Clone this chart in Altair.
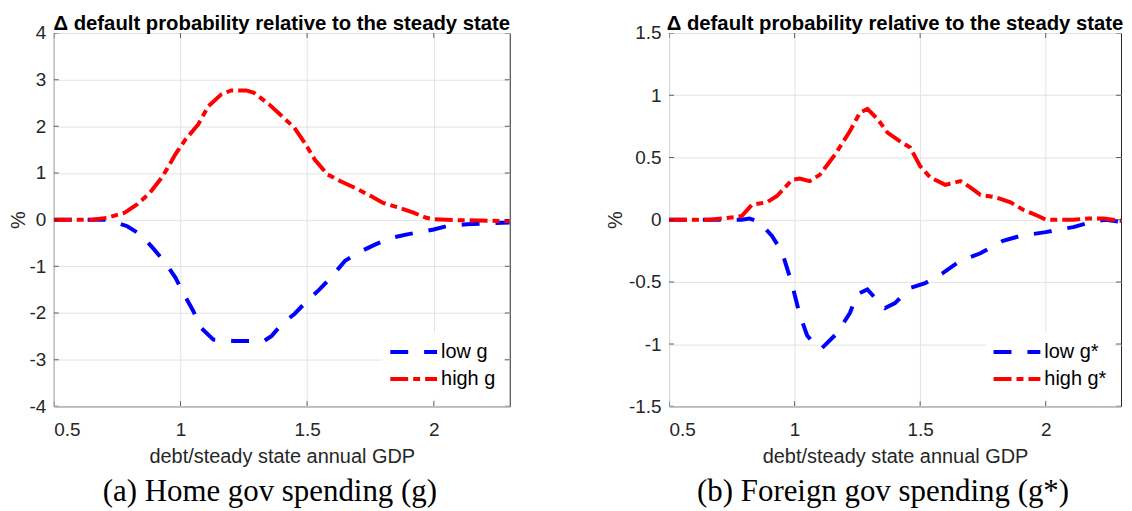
import altair as alt
import pandas as pd

# ---------------- data ----------------
X_TICKS = [0.5, 1, 1.5, 2]
Y_TICKS_A = [-4, -3, -2, -1, 0, 1, 2, 3, 4]
Y_TICKS_B = [-1.5, -1, -0.5, 0, 0.5, 1, 1.5]

TITLE = "Δ default probability relative to the steady state"
X_TITLE = "debt/steady state annual GDP"
LABELS_A = ["low g", "high g"]
LABELS_B = ["low g*", "high g*"]
CAPTION_A = "(a) Home gov spending (g)"
CAPTION_B = "(b) Foreign gov spending (g*)"

# panel (a): home government spending
a_low_x = [0.5, 0.6, 0.71, 0.79, 0.84, 0.89, 0.94, 0.98, 1.01, 1.05, 1.08, 1.13, 1.21,
           1.33, 1.36, 1.40, 1.45, 1.50, 1.55, 1.60, 1.65, 1.70, 1.77, 1.83, 1.90,
           2.0, 2.05, 2.13, 2.3]
a_low_y = [0, 0, 0, -0.14, -0.31, -0.6, -0.92, -1.24, -1.56, -1.95, -2.31, -2.57, -2.6,
           -2.6, -2.49, -2.24, -2.02, -1.74, -1.49, -1.2, -0.88, -0.71, -0.53, -0.39, -0.31,
           -0.21, -0.14, -0.1, -0.06]
a_high_x = [0.5, 0.65, 0.71, 0.78, 0.83, 0.88, 0.93, 0.98, 1.02, 1.07, 1.11, 1.16, 1.2,
            1.26, 1.29, 1.35, 1.40, 1.45, 1.49, 1.53, 1.58, 1.63, 1.69, 1.75, 1.80, 1.86,
            1.92, 1.97, 2.0, 2.1, 2.3]
a_high_y = [0, 0, 0.04, 0.15, 0.33, 0.58, 0.93, 1.4, 1.72, 2.04, 2.43, 2.68, 2.77,
            2.77, 2.72, 2.47, 2.22, 1.97, 1.65, 1.29, 0.97, 0.83, 0.68, 0.51, 0.36, 0.26,
            0.15, 0.04, 0.01, -0.01, -0.03]

# panel (b): foreign government spending
b_low_x = [0.5, 0.79, 0.82, 0.86, 0.91, 0.95, 0.99, 1.02, 1.05, 1.09, 1.11, 1.17, 1.22,
           1.25, 1.29, 1.33, 1.36, 1.40, 1.46, 1.52, 1.59, 1.66, 1.74, 1.83, 1.90, 2.0,
           2.05, 2.11, 2.18, 2.24, 2.3]
b_low_y = [0, 0, 0.01, -0.02, -0.13, -0.26, -0.52, -0.76, -0.93, -1.03, -1.03, -0.91, -0.75,
           -0.6, -0.56, -0.65, -0.71, -0.67, -0.55, -0.51, -0.43, -0.33, -0.27, -0.17, -0.13,
           -0.1, -0.08, -0.06, -0.02, 0, -0.02]
b_high_x = [0.5, 0.66, 0.76, 0.79, 0.83, 0.89, 0.93, 0.99, 1.02, 1.06, 1.10, 1.16, 1.22,
            1.26, 1.29, 1.33, 1.37, 1.42, 1.46, 1.5, 1.54, 1.6, 1.66, 1.70, 1.74, 1.80,
            1.86, 1.91, 1.97, 2.0, 2.11, 2.17, 2.23, 2.3]
b_high_y = [0, 0, 0.02, 0.03, 0.12, 0.14, 0.19, 0.32, 0.33, 0.31, 0.36, 0.52, 0.71,
            0.86, 0.89, 0.81, 0.7, 0.63, 0.58, 0.43, 0.34, 0.28, 0.31, 0.26, 0.2, 0.18,
            0.14, 0.08, 0.03, 0.0, 0, 0.01, 0.01, -0.01]

# ---------------- styling ----------------
H = 375
XMIN, XMAX = 0.5, 2.3
SANS = "Liberation Sans"
SERIF = "Liberation Serif"
AXIS_COLOR = "#262626"
BLUE, RED = "#0000ff", "#ff0000"
DASH_LOW, DASH_HIGH = [18, 16], [18, 5, 7, 5]


def panel(low_x, low_y, high_x, high_y, labels, ymin, ymax, yticks, caption, y_extent, W):
    low_df = pd.DataFrame({"x": low_x, "y": low_y, "s": labels[0]})
    high_df = pd.DataFrame({"x": high_x, "y": high_y, "s": labels[1]})

    xscale = alt.Scale(domain=[XMIN, XMAX], nice=False, zero=False)
    yscale = alt.Scale(domain=[ymin, ymax], nice=False, zero=False)
    xaxis = alt.Axis(values=X_TICKS, title=X_TITLE, labelExpr="'' + datum.value",
                     labelPadding=14, titlePadding=7)
    yaxis = alt.Axis(values=yticks, title="%", labelExpr="'' + datum.value",
                     labelPadding=8, titlePadding=4,
                     minExtent=y_extent, maxExtent=y_extent)

    legend = alt.Legend(orient="bottom-right", title=None, symbolType="stroke",
                        symbolSize=2209, symbolStrokeWidth=4, labelFontSize=20,
                        labelFont=SANS, labelColor="black", fillColor="white",
                        padding=6, offset=8, rowPadding=0, clipHeight=27,
                        labelOffset=2, strokeColor="white")
    color = alt.Color("s:N", scale=alt.Scale(domain=labels, range=[BLUE, RED]), legend=legend)
    dash = alt.StrokeDash("s:N", scale=alt.Scale(domain=labels, range=[DASH_LOW, DASH_HIGH]),
                          legend=legend)

    def line(df):
        return alt.Chart(df).mark_line(strokeWidth=4, strokeCap="butt", clip=True).encode(
            x=alt.X("x:Q", scale=xscale, axis=xaxis),
            y=alt.Y("y:Q", scale=yscale, axis=yaxis),
            color=color, strokeDash=dash)

    # inner tick marks of the MATLAB-style box
    xt = pd.DataFrame({"x": X_TICKS * 2, "y": [ymin] * len(X_TICKS) + [ymax] * len(X_TICKS)})
    yt = pd.DataFrame({"y": list(yticks) * 2, "x": [XMIN] * len(yticks) + [XMAX] * len(yticks)})
    xticks = alt.Chart(xt).mark_tick(orient="vertical", size=10, thickness=1,
                                      color=AXIS_COLOR, clip=True).encode(
        x=alt.X("x:Q", scale=xscale), y=alt.Y("y:Q", scale=yscale))
    yticksm = alt.Chart(yt).mark_tick(orient="horizontal", size=10, thickness=1,
                                       color=AXIS_COLOR, clip=True).encode(
        x=alt.X("x:Q", scale=xscale), y=alt.Y("y:Q", scale=yscale))

    cap = alt.Chart(pd.DataFrame({"t": [caption]})).mark_text(
        font=SERIF, fontSize=31, align="center", baseline="middle", color="black").encode(
        text="t:N", x=alt.value(W / 2 - 12), y=alt.value(H + 86))

    return alt.layer(line(low_df), line(high_df), xticks, yticksm, cap).properties(
        width=W, height=H,
        title=alt.TitleParams(TITLE, font=SANS, fontSize=20.4, fontWeight="bold",
                              color="black", anchor="middle", offset=-10))


pa = panel(a_low_x, a_low_y, a_high_x, a_high_y, LABELS_A, -4, 4, Y_TICKS_A, CAPTION_A, 21, 458)
pb = panel(b_low_x, b_low_y, b_high_x, b_high_y, LABELS_B, -1.5, 1.5, Y_TICKS_B, CAPTION_B, 40, 454)

chart = alt.hconcat(pa, pb, spacing=94).resolve_scale(
    color="independent", strokeDash="independent"
).properties(
    padding={"left": 0, "top": 4, "right": 0, "bottom": 0},
    background="white",
).configure_axis(
    labelFont=SANS, labelFontSize=19, labelColor=AXIS_COLOR,
    titleFont=SANS, titleFontSize=20, titleFontWeight="normal", titleColor=AXIS_COLOR,
    gridColor="#e3e3e3", gridWidth=1, domain=False, ticks=False,
).configure_view(stroke=AXIS_COLOR, strokeWidth=1)

chart.save("out.html", embed_options={"renderer": "svg", "actions": False})
